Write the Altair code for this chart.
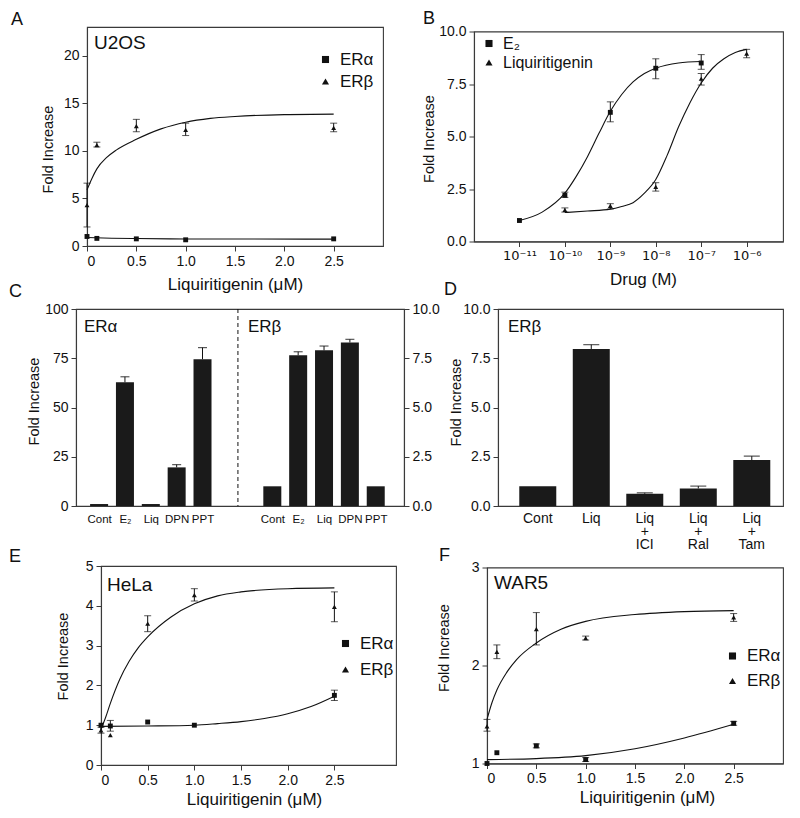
import altair as alt
import pandas as pd

FONT = "Liberation Sans"
INK = "#111111"
FRAME = "#3a3a3a"
BAR = "#1a1a1a"

# ---------------- Panel A : U2OS ----------------
A_dose = [0, 0.1, 0.5, 1.0, 2.5]
A_alpha = [1.0, 0.8, 0.75, 0.65, 0.75]
A_beta = [4.3, 10.6, 12.6, 12.2, 12.4]
A_beta_lo = [2.0, 10.4, 12.0, 11.6, 12.0]
A_beta_hi = [6.6, 10.9, 13.3, 12.9, 12.9]
A_fit_beta_x = [0, 0.05, 0.1, 0.2, 0.3, 0.5, 0.75, 1.0, 1.25, 1.5, 2.0, 2.5]
A_fit_beta_y = [5.9, 7.1, 8.1, 9.3, 10.1, 11.2, 12.3, 13.0, 13.4, 13.6, 13.8, 13.85]
A_fit_alpha_x = [0, 0.25, 0.5, 1.0, 1.5, 2.5]
A_fit_alpha_y = [0.9, 0.82, 0.78, 0.74, 0.73, 0.72]

# ---------------- Panel B : dose response ----------------
B_e2_dose = [-11, -10, -9, -8, -7]
B_e2 = [1.0, 2.2, 6.15, 8.25, 8.5]
B_e2_lo = [1.0, 2.1, 5.7, 7.75, 8.2]
B_e2_hi = [1.0, 2.35, 6.65, 8.7, 8.9]
B_liq_dose = [-10, -9, -8, -7, -6]
B_liq = [1.5, 1.7, 2.6, 7.75, 8.95]
B_liq_lo = [1.4, 1.55, 2.4, 7.45, 8.75]
B_liq_hi = [1.6, 1.8, 2.8, 8.0, 9.15]
B_fit_e2_x = [-11, -10.5, -10, -9.75, -9.5, -9.25, -9, -8.75, -8.5, -8.25, -8, -7.5, -7]
B_fit_e2_y = [1.0, 1.4, 2.3, 3.1, 4.05, 5.15, 6.2, 7.0, 7.6, 8.0, 8.25, 8.5, 8.57]
B_fit_liq_x = [-10, -9.5, -9, -8.75, -8.5, -8.25, -8, -7.75, -7.5, -7.25, -7, -6.75, -6.5, -6.25, -6]
B_fit_liq_y = [1.38, 1.45, 1.54, 1.67, 1.85, 2.3, 2.95, 4.1, 5.45, 6.6, 7.55, 8.25, 8.7, 9.0, 9.15]
B_ticks = [-11, -10, -9, -8, -7, -6]
B_tick_labels = ["10⁻¹¹", "10⁻¹⁰", "10⁻⁹", "10⁻⁸", "10⁻⁷", "10⁻⁶"]

# ---------------- Panel C : ERα / ERβ bars ----------------
C_labels = ["Cont", "E₂", "Liq", "DPN", "PPT"]
C_slot_alpha = [0.7, 1.7, 2.7, 3.7, 4.7]
C_slot_beta = [7.4, 8.4, 9.4, 10.4, 11.4]
C_divider = 6.07
C_alpha = [1.0, 62.8, 1.0, 19.6, 74.5]
C_alpha_hi = [1.0, 65.6, 1.0, 21.0, 80.4]
C_beta = [1.0, 7.65, 7.9, 8.3, 1.0]
C_beta_hi = [1.0, 7.83, 8.12, 8.46, 1.0]

# ---------------- Panel D : ERβ antagonists ----------------
D_labels = ["Cont", "Liq", "Liq\n+\nICI", "Liq\n+\nRal", "Liq\n+\nTam"]
D_slot = [1, 2, 3, 4, 5]
D_val = [1.0, 7.97, 0.62, 0.89, 2.33]
D_hi = [1.0, 8.19, 0.67, 1.01, 2.53]

# ---------------- Panel E : HeLa ----------------
E_dose = [0, 0.1, 0.5, 1.0, 2.5]
E_alpha = [1.0, 0.98, 1.08, 1.0, 1.75]
E_alpha_lo = [1.0, 0.85, 1.08, 1.0, 1.62]
E_alpha_hi = [1.0, 1.12, 1.08, 1.0, 1.88]
E_beta = [0.87, 0.75, 3.55, 4.27, 3.97]
E_beta_lo = [0.8, 0.75, 3.35, 4.12, 3.6]
E_beta_hi = [0.95, 0.75, 3.75, 4.43, 4.35]
E_fit_beta_x = [0, 0.05, 0.1, 0.2, 0.3, 0.4, 0.5, 0.75, 1.0, 1.25, 1.5, 2.0, 2.5]
E_fit_beta_y = [0.9, 1.2, 1.55, 2.15, 2.6, 2.95, 3.22, 3.72, 4.05, 4.25, 4.35, 4.43, 4.45]
E_fit_alpha_x = [0, 0.5, 1.0, 1.25, 1.5, 1.75, 2.0, 2.25, 2.5]
E_fit_alpha_y = [0.97, 0.98, 1.0, 1.04, 1.09, 1.17, 1.29, 1.47, 1.73]

# ---------------- Panel F : WAR5 ----------------
F_dose = [0, 0.1, 0.5, 1.0, 2.5]
F_alpha = [1.0, 1.11, 1.18, 1.04, 1.41]
F_alpha_lo = [1.0, 1.11, 1.16, 1.02, 1.39]
F_alpha_hi = [1.0, 1.11, 1.20, 1.06, 1.43]
F_beta = [1.38, 2.14, 2.37, 2.28, 2.49]
F_beta_lo = [1.33, 2.07, 2.21, 2.26, 2.45]
F_beta_hi = [1.45, 2.21, 2.54, 2.30, 2.53]
F_fit_beta_x = [0, 0.05, 0.1, 0.2, 0.3, 0.5, 0.75, 1.0, 1.5, 2.0, 2.5]
F_fit_beta_y = [1.45, 1.62, 1.75, 1.93, 2.06, 2.23, 2.37, 2.45, 2.52, 2.55, 2.56]
F_fit_alpha_x = [0, 0.5, 1.0, 1.5, 2.0, 2.5]
F_fit_alpha_y = [1.04, 1.05, 1.08, 1.15, 1.26, 1.40]

SER_A = ["ERα", "ERβ"]
SER_B = ["E₂", "Liquiritigenin"]


def rows(name, xs, ys, lo=None, hi=None):
    lo = lo if lo is not None else ys
    hi = hi if hi is not None else ys
    return [dict(series=name, x=a, y=b, lo=c, hi=d) for a, b, c, d in zip(xs, ys, lo, hi)]


def fit_rows(name, xs, ys):
    return [dict(series=name, x=a, y=b) for a, b in zip(xs, ys)]


def text_layer(text, x, y, size, align="left"):
    return alt.Chart(alt.Data(values=[{"t": text}])).mark_text(
        align=align, baseline="alphabetic", fontSize=size, color=INK, font=FONT
    ).encode(x=alt.value(x), y=alt.value(y), text="t:N")


def xy_panel(pts, fits, xdom, ydom, xvals, yvals, xtitle, series, shapes, leg,
             tag, tag_xy, name, name_xy, w, h, ytitle_xy, xlab_expr=None,
             ylab_expr=None, xtitle_x=None, xtitle_pad=6, name_size=19, xlab_font=FONT, xlab_size=14):
    df = pd.DataFrame(pts)
    err = df[df["hi"] > df["lo"]]
    fit = pd.DataFrame(fits)
    xkw = dict(values=xvals, title=xtitle, titleFontSize=17, titlePadding=xtitle_pad,
               labelFont=xlab_font, labelFontSize=xlab_size, labelOverlap=False)
    if xlab_expr:
        xkw["labelExpr"] = xlab_expr
    if xtitle_x is not None:
        xkw["titleX"] = xtitle_x
    X = alt.X("x:Q", scale=alt.Scale(domain=xdom, nice=False, zero=False), axis=alt.Axis(**xkw))
    ykw = dict(values=yvals, title="Fold Increase", titleFontSize=14.5, labelOverlap=False,
               titleX=ytitle_xy[0], titleY=ytitle_xy[1])
    if ylab_expr:
        ykw["labelExpr"] = ylab_expr
    yax = alt.Axis(**ykw)
    ysc = alt.Scale(domain=ydom, nice=False, zero=False)

    def Y(f):
        return alt.Y(f"{f}:Q", scale=ysc, axis=yax)

    lines = alt.Chart(fit).mark_line(color=INK, strokeWidth=1.1, interpolate="monotone").encode(
        x=X, y=Y("y"), detail="series:N")
    rules = alt.Chart(err).mark_rule(color=INK, strokeWidth=1).encode(x=X, y=Y("lo"), y2="hi:Q")
    cap_lo = alt.Chart(err).mark_tick(orient="horizontal", size=7, thickness=1, color=INK).encode(
        x=X, y=Y("lo"))
    cap_hi = alt.Chart(err).mark_tick(orient="horizontal", size=7, thickness=1, color=INK).encode(
        x=X, y=Y("hi"))
    points = alt.Chart(df).mark_point(filled=True, size=24, color=INK, opacity=1).encode(
        x=X, y=Y("y"),
        shape=alt.Shape("series:N", scale=alt.Scale(domain=series, range=shapes),
                        legend=alt.Legend(orient="none", legendX=leg[0], legendY=leg[1], title=None,
                                          labelFontSize=leg[2], labelFont=FONT, labelColor=INK,
                                          symbolSize=50, symbolFillColor=INK, symbolStrokeColor=INK,
                                          rowPadding=leg[3], labelOffset=6)))
    layers = [lines, rules, cap_lo, cap_hi, points,
              text_layer(tag, tag_xy[0], tag_xy[1], 18)]
    if name:
        layers.append(text_layer(name, name_xy[0], name_xy[1], name_size))
    return alt.layer(*layers).properties(width=w, height=h)


dose_expr = "datum.value == 0 ? '0' : format(datum.value, '.1f')"
int_expr = "format(datum.value, 'd')"
dec_expr = "format(datum.value, '.1f')"

# ---- A ----
panel_A = xy_panel(
    rows("ERα", A_dose, A_alpha) + rows("ERβ", A_dose, A_beta, A_beta_lo, A_beta_hi),
    fit_rows("a", A_fit_alpha_x, A_fit_alpha_y) + fit_rows("b", A_fit_beta_x, A_fit_beta_y),
    [0, 3], [0, 23], [0, 0.5, 1, 1.5, 2, 2.5], [0, 5, 10, 15, 20],
    "Liquiritigenin (μM)", SER_A, ["square", "triangle-up"], (230, 24, 17, 4),
    "A", (-76, -2.5), "U2OS", (7, 22), 296, 219, (-32, 122), xlab_expr=dose_expr,
    ylab_expr=int_expr, xtitle_pad=8)

# ---- B ----
b_expr = "".join(f"datum.value == {v} ? '{lab}' : " for v, lab in zip(B_ticks, B_tick_labels)) + "''"
panel_B = xy_panel(
    rows("E₂", B_e2_dose, B_e2, B_e2_lo, B_e2_hi) + rows("Liquiritigenin", B_liq_dose, B_liq, B_liq_lo, B_liq_hi),
    fit_rows("e", B_fit_e2_x, B_fit_e2_y) + fit_rows("l", B_fit_liq_x, B_fit_liq_y),
    [-12, -5.2], [0, 10], B_ticks, [0, 2.5, 5, 7.5, 10],
    "Drug (M)", SER_B, ["square", "triangle-up"], (7, 4, 16, 3),
    "B", (-51, -8), None, (0, 0), 309, 210, (-38, 107), xlab_expr=b_expr,
    ylab_expr=dec_expr, xtitle_x=169, xtitle_pad=9, xlab_font="DejaVu Sans", xlab_size=13)

# ---- C ----
c_slots = C_slot_alpha + C_slot_beta
c_expr = "".join(f"datum.value == {v} ? '{lab}' : " for v, lab in zip(c_slots, C_labels + C_labels)) + "''"
CX = alt.X("slot:Q", scale=alt.Scale(domain=[0, 12.3], nice=False, zero=False),
           axis=alt.Axis(values=c_slots, labelExpr=c_expr, ticks=False, title=None,
                         labelFontSize=11.5, labelPadding=7, labelOverlap=False))
ca = pd.DataFrame(dict(slot=C_slot_alpha, v=C_alpha, hi=C_alpha_hi))
cb = pd.DataFrame(dict(slot=C_slot_beta, v=C_beta, hi=C_beta_hi))
ya_sc = alt.Scale(domain=[0, 100], nice=False)
ya_ax = alt.Axis(values=[0, 25, 50, 75, 100], title="Fold Increase", titleFontSize=14.5,
                 titleX=-35, titleY=92, orient="left", labelOverlap=False)
yb_sc = alt.Scale(domain=[0, 10], nice=False)
yb_ax = alt.Axis(values=[0, 2.5, 5, 7.5, 10], labelExpr=dec_expr, title=None, orient="right",
                 labelOverlap=False)


def bar_group(df, ysc, yax, size):
    e = df[df["hi"] > df["v"]]
    bars = alt.Chart(df).mark_bar(size=size, color=BAR).encode(
        x=CX, y=alt.Y("v:Q", scale=ysc, axis=yax))
    er = alt.Chart(e).mark_rule(color=INK, strokeWidth=1).encode(
        x=CX, y=alt.Y("v:Q", scale=ysc, axis=yax), y2="hi:Q")
    cap = alt.Chart(e).mark_tick(orient="horizontal", size=9, thickness=1.2, color=INK).encode(
        x=CX, y=alt.Y("hi:Q", scale=ysc, axis=yax))
    return [bars, er, cap]


divider = alt.Chart(alt.Data(values=[{"slot": C_divider}])).mark_rule(
    color=INK, strokeWidth=1, strokeDash=[4, 3]).encode(x=CX)
left_c = alt.layer(*bar_group(ca, ya_sc, ya_ax, 18), divider,
                   text_layer("C", -67, -12, 18),
                   text_layer("ERα", 8, 23, 17), text_layer("ERβ", 172, 23, 17))
right_c = alt.layer(*bar_group(cb, yb_sc, yb_ax, 18))
panel_C = alt.layer(left_c, right_c).resolve_scale(y="independent").properties(width=328, height=197)

# ---- D ----
dd = pd.DataFrame(dict(slot=D_slot, v=D_val, hi=D_hi, label=D_labels))
de = dd[dd["hi"] > dd["v"]]
DX = alt.X("slot:Q", scale=alt.Scale(domain=[0.35, 5.49], nice=False, zero=False), axis=None)
d_sc = alt.Scale(domain=[0, 10], nice=False)
d_ax = alt.Axis(values=[0, 2.5, 5, 7.5, 10], labelExpr=dec_expr, title="Fold Increase",
                titleFontSize=14.5, titleX=-35, titleY=93, labelOverlap=False)
d_bars = alt.Chart(dd).mark_bar(size=37, color=BAR).encode(x=DX, y=alt.Y("v:Q", scale=d_sc, axis=d_ax))
d_err = alt.Chart(de).mark_rule(color=INK, strokeWidth=1).encode(
    x=DX, y=alt.Y("v:Q", scale=d_sc, axis=d_ax), y2="hi:Q")
d_cap = alt.Chart(de).mark_tick(orient="horizontal", size=16, thickness=1.2, color=INK).encode(
    x=DX, y=alt.Y("hi:Q", scale=d_sc, axis=d_ax))
d_lab = alt.Chart(dd).mark_text(baseline="top", fontSize=14, lineHeight=13, lineBreak="\n",
                                color=INK, font=FONT).encode(
    x=DX, y=alt.value(203), text="label:N")
panel_D = alt.layer(d_bars, d_err, d_cap, d_lab,
                    text_layer("D", -54, -14, 18),
                    text_layer("ERβ", 10, 23, 17)).properties(width=285, height=197)

# ---- E ----
panel_E = xy_panel(
    rows("ERα", E_dose, E_alpha, E_alpha_lo, E_alpha_hi) + rows("ERβ", E_dose, E_beta, E_beta_lo, E_beta_hi),
    fit_rows("a", E_fit_alpha_x, E_fit_alpha_y) + fit_rows("b", E_fit_beta_x, E_fit_beta_y),
    [0, 3.16], [0, 5], [0, 0.5, 1, 1.5, 2, 2.5], [0, 1, 2, 3, 4, 5],
    "Liquiritigenin (μM)", SER_A, ["square", "triangle-up"], (236, 69, 17, 8),
    "E", (-92, -4), "HeLa", (6, 25), 295, 199, (-31, 90), xlab_expr=dose_expr, xtitle_x=153,
    ylab_expr=int_expr, xtitle_pad=4)

# ---- F ----
panel_F = xy_panel(
    rows("ERα", F_dose, F_alpha, F_alpha_lo, F_alpha_hi) + rows("ERβ", F_dose, F_beta, F_beta_lo, F_beta_hi),
    fit_rows("a", F_fit_alpha_x, F_fit_alpha_y) + fit_rows("b", F_fit_beta_x, F_fit_beta_y),
    [0, 3], [1, 3], [0, 0.5, 1, 1.5, 2, 2.5], [1, 2, 3],
    "Liquiritigenin (μM)", SER_A, ["square", "triangle-up"], (237, 80, 17, 7),
    "F", (-48, -7), "WAR5", (7, 21), 296, 196, (-36, 80), xlab_expr=dose_expr, xtitle_x=160,
    ylab_expr=int_expr, xtitle_pad=4)


def spacer(w, h):
    return alt.Chart(alt.Data(values=[{"s": 0}])).mark_rule(opacity=0, strokeWidth=0.5).encode(
        x=alt.value(0), x2=alt.value(w), y=alt.value(0), y2=alt.value(h)
    ).properties(width=w, height=h, view=alt.ViewBackground(stroke="transparent"))


def row(wl, left, wm, right):
    return alt.hconcat(spacer(wl, 1), left, spacer(wm, 1), right,
                       spacing=0, bounds="flush", center=True).resolve_scale(
        x="independent", y="independent", shape="independent").resolve_legend(shape="independent")


chart = alt.vconcat(
    row(78, panel_A, 91, panel_B),
    spacer(1, 6),
    row(67, panel_C, 94, panel_D),
    spacer(1, 11),
    row(92, panel_E, 91, panel_F),
    spacing=-20,
).resolve_scale(
    x="independent", y="independent", shape="independent"
).resolve_legend(shape="independent").properties(padding=0).configure(
    font=FONT
).configure_view(stroke=FRAME, strokeWidth=1.1).configure_axis(
    labelFont=FONT, titleFont=FONT, labelFontSize=14, titleFontWeight="normal",
    labelColor=INK, titleColor=INK, domainColor=FRAME, tickColor=FRAME, tickSize=5,
    grid=False, labelPadding=3, domainWidth=1.1
).configure_text(font=FONT, color=INK)

chart.save("out.html", embed_options={"renderer": "svg", "actions": False})
